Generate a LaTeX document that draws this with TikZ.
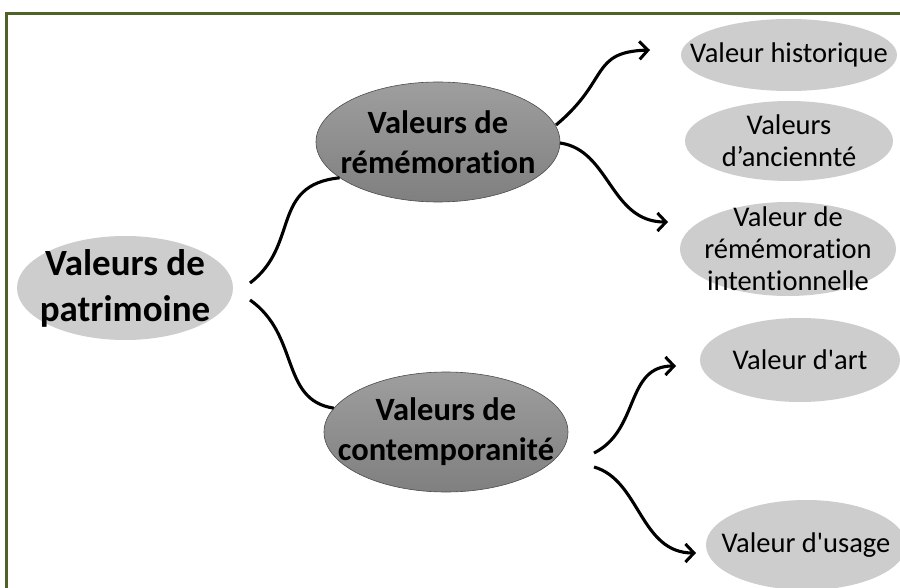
\documentclass[tikz,border=0pt]{standalone}
\usepackage{fontspec}
\setmainfont{Carlito}[Ligatures={NoCommon,TeXOff}]
\usetikzlibrary{arrows.meta,shapes.geometric}
\definecolor{frame}{HTML}{4F6228}
\definecolor{light}{HTML}{CDCDCD}
\tikzset{
  rootshape/.style={ellipse,fill=light,inner sep=0pt},
  midshape/.style={ellipse,draw=black!70,line width=0.6pt,top color=black!38,bottom color=black!50,inner sep=0pt},
  leafshape/.style={ellipse,fill=light,inner sep=0pt},
  roottext/.style={inner sep=0pt,align=center,font=\bfseries\fontsize{37}{46}\selectfont},
  midtext/.style={inner sep=0pt,align=center,font=\bfseries\fontsize{32.5}{40}\selectfont},
  leaftext/.style={inner sep=0pt,align=center,font=\fontsize{28.5}{32}\selectfont},
  link/.style={line width=3.1pt,black},
  arr/.style={link,-{Straight Barb[length=8.5pt,width=18pt,line width=3pt]}}
}
\begin{document}
\begin{tikzpicture}[x=1pt,y=-1pt]
\useasboundingbox (0,0) rectangle (900,588);
\fill[white] (0,0) rectangle (900,588);
\draw[frame,line width=3pt] (6.5,920) -- (6.5,13.5) -- (950,13.5);

\node[rootshape,minimum width=216pt,minimum height=104pt] (pat) at (125,288) {};
\node[roottext] (patT) at (pat) {Valeurs de\\patrimoine};
\node[midshape,minimum width=244pt,minimum height=120pt] (rem) at (438,142) {};
\node[midtext] (remT) at (rem) {Valeurs de\\rémémoration};
\node[midshape,minimum width=244pt,minimum height=120pt] (con) at (446,432) {};
\node[midtext] (conT) at (con) {Valeurs de\\contemporanité};

\node[leafshape,minimum width=216pt,minimum height=72pt] (his) at (789,55) {};
\node[leaftext] (hisT) at (his) {Valeur historique};
\node[leafshape,minimum width=208pt,minimum height=80pt] (anc) at (789,141) {};
\node[leaftext] (ancT) at (anc) {Valeurs\\d’anciennté};
\node[leafshape,minimum width=216pt,minimum height=94pt] (int) at (788,249) {};
\node[leaftext] (intT) at (int) {Valeur de\\rémémoration\\intentionnelle};
\node[leafshape,minimum width=200pt,minimum height=84pt] (art) at (800,360) {};
\node[leaftext] (artT) at (art) {Valeur d'art};
\node[leafshape,minimum width=200pt,minimum height=90pt] (usa) at (806,545) {};
\node[leaftext] (usaT) at (usa) {Valeur d'usage};

\coordinate (p1) at (250,283);
\coordinate (p2) at (250,300);
\coordinate (r1) at (556,125);
\coordinate (r2) at (560,143);
\coordinate (c1) at (594,453);
\coordinate (c2) at (594,467);
\coordinate (hisin) at (650,50);
\coordinate (intin) at (668,222);
\coordinate (artin) at (676,366);
\coordinate (usain) at (696,553);

\draw[link] (p1) .. controls (300,245) and (270,185) .. (rem.200);
\draw[link] (p2) .. controls (300,335) and (280,400) .. (con.168);
\draw[arr] (r1) .. controls (610,80) and (590,52) .. (hisin);
\draw[arr] (r2) .. controls (610,150) and (610,222) .. (intin);
\draw[arr] (c1) .. controls (640,430) and (625,366) .. (artin);
\draw[arr] (c2) .. controls (640,480) and (640,553) .. (usain);
\end{tikzpicture}
\end{document}
